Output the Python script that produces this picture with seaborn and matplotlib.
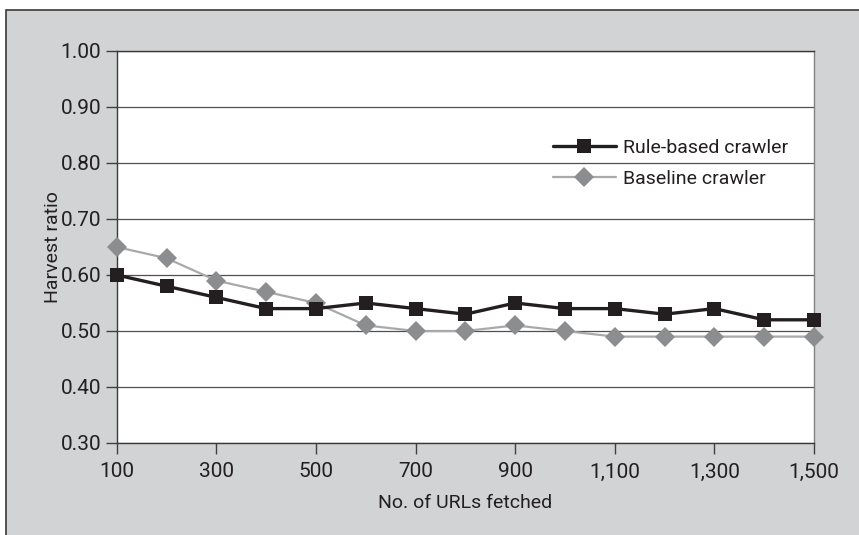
import matplotlib
matplotlib.use("Agg")
import matplotlib.pyplot as plt
import seaborn as sns
import pandas as pd
from matplotlib.patches import Rectangle
from matplotlib.ticker import FuncFormatter

urls = [100, 200, 300, 400, 500, 600, 700, 800, 900, 1000, 1100, 1200, 1300, 1400, 1500]
rule_based = [0.60, 0.58, 0.56, 0.54, 0.54, 0.55, 0.54, 0.53, 0.55, 0.54, 0.54, 0.53, 0.54, 0.52, 0.52]
baseline = [0.65, 0.63, 0.59, 0.57, 0.55, 0.51, 0.50, 0.50, 0.51, 0.50, 0.49, 0.49, 0.49, 0.49, 0.49]
series_names = ["Rule-based crawler", "Baseline crawler"]
x_ticks = [100, 300, 500, 700, 900, 1100, 1300, 1500]
y_ticks = [0.30, 0.40, 0.50, 0.60, 0.70, 0.80, 0.90, 1.00]

df = pd.DataFrame({
    "urls": urls * 2,
    "ratio": rule_based + baseline,
    "series": [series_names[0]] * len(urls) + [series_names[1]] * len(urls),
})

sns.set_theme(style="white")
plt.rcParams["font.family"] = ["Roboto", "Liberation Sans", "DejaVu Sans"]

W, H = 859, 535
fig = plt.figure(figsize=(W / 100, H / 100), dpi=100)
fig.patch.set_facecolor("white")
bg = Rectangle((6 / W, -0.05), 1.1, (H - 10) / H + 0.05, transform=fig.transFigure,
               facecolor="#d1d3d4", edgecolor="#3a3a3a", linewidth=1.2, zorder=-10)
fig.add_artist(bg)

ax = fig.add_axes([116.7 / W, (H - 443) / H, (814 - 116.7) / W, (443 - 51) / H])
ax.set_zorder(5)
ax.set_facecolor("white")

sns.lineplot(data=df[df.series == series_names[0]], x="urls", y="ratio", color="#231f20",
             linewidth=2.4, marker="s", markersize=10, markeredgewidth=0,
             markerfacecolor="#231f20", ax=ax, label=series_names[0], clip_on=False, zorder=4)
sns.lineplot(data=df[df.series == series_names[1]], x="urls", y="ratio", color="#a7a9ac",
             linewidth=1.6, marker="D", markersize=10, markeredgewidth=0,
             markerfacecolor="#8c8d8f", ax=ax, label=series_names[1], clip_on=False, zorder=3)

ax.set_xlim(100, 1500)
ax.set_ylim(0.30, 1.00)
ax.set_xticks(x_ticks)
ax.set_yticks(y_ticks)
ax.xaxis.set_major_formatter(FuncFormatter(lambda v, p: f"{int(v):,}"))
ax.yaxis.set_major_formatter(FuncFormatter(lambda v, p: f"{v:.2f}"))
ax.yaxis.grid(True, color="#505050", linewidth=0.9)
ax.set_axisbelow(True)
ax.tick_params(axis="both", which="major", direction="out", length=8, width=1,
               color="#404040", labelsize=15, labelcolor="#231f20", pad=3,
               bottom=True, left=True)
ax.tick_params(axis="x", pad=6)
for side in ["left", "bottom", "top"]:
    ax.spines[side].set_color("#3a3a3a")
    ax.spines[side].set_linewidth(1.0)
ax.spines["right"].set_color("#808080")
ax.spines["right"].set_linewidth(1.0)

ax.set_xlabel("No. of URLs fetched", fontsize=14, color="#231f20", labelpad=9)
ax.set_ylabel("Harvest ratio", fontsize=14, color="#231f20", labelpad=-1)

leg = ax.legend(loc="upper left", bbox_to_anchor=(0.615, 0.795), frameon=False,
                fontsize=14, handlelength=3.2, handletextpad=0.4, labelspacing=0.65,
                borderaxespad=0)
for t in leg.get_texts():
    t.set_color("#231f20")

fig.savefig("out.png", dpi=100, facecolor=fig.get_facecolor())
